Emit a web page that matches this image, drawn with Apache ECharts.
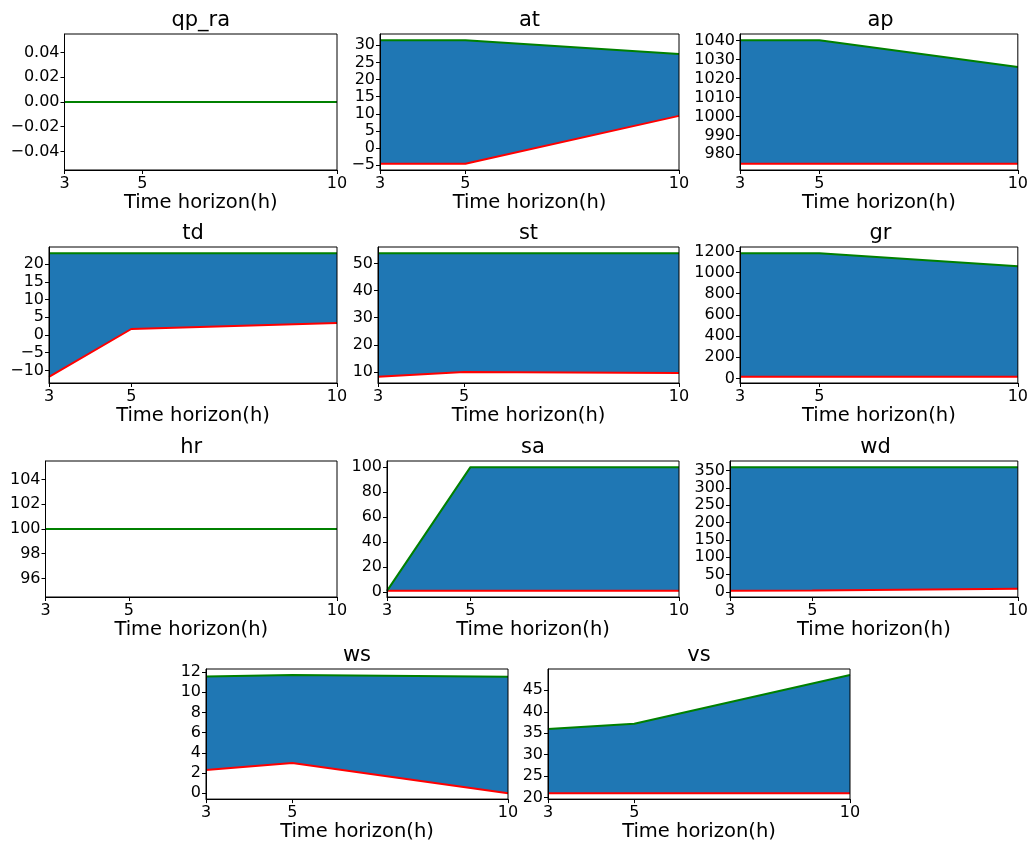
<!DOCTYPE html>
<html><head><meta charset="utf-8">
<script src="https://cdn.jsdelivr.net/npm/echarts@6/dist/echarts.min.js"></script>
<style>html,body{margin:0;padding:0;background:#fff}#c{width:1031px;height:843px}</style>
</head><body><div id="c"></div>
<script>
// ---------- data ----------
const hours = [3, 5, 10];
const xTicks = [3, 5, 10];
const xTickLabels = ['3', '5', '10'];
const xLabel = 'Time horizon(h)';

const titles = ['qp_ra', 'at', 'ap', 'td', 'st', 'gr', 'hr', 'sa', 'wd', 'ws', 'vs'];

const upperQpRa = [0, 0, 0];
const lowerQpRa = [0, 0, 0];
const upperAt = [31.5, 31.5, 27.5];
const lowerAt = [-4.6, -4.6, 9.4];
const upperAp = [1040.2, 1040.2, 1026];
const lowerAp = [975, 975, 975];
const upperTd = [23.1, 23.1, 23.1];
const lowerTd = [-11.8, 1.7, 3.4];
const upperSt = [53.8, 53.8, 53.8];
const lowerSt = [8.2, 10.0, 9.6];
const upperGr = [1183, 1183, 1060];
const lowerGr = [15, 15, 15];
const upperHr = [100, 100, 100];
const lowerHr = [100, 100, 100];
const upperSa = [1, 100, 100];
const lowerSa = [1, 1, 1];
const upperWd = [360, 360, 360];
const lowerWd = [3, 4, 9];
const upperWs = [11.56, 11.72, 11.53];
const lowerWs = [2.3, 3.0, 0.0];
const upperVs = [36.0, 37.2, 48.6];
const lowerVs = [21.0, 21.0, 21.0];

const ticksQpRa = [-0.04, -0.02, 0, 0.02, 0.04];
const labelsQpRa = ['\u22120.04', '\u22120.02', '0.00', '0.02', '0.04'];
const ticksAt = [-5, 0, 5, 10, 15, 20, 25, 30];
const labelsAt = ['\u22125', '0', '5', '10', '15', '20', '25', '30'];
const ticksAp = [980, 990, 1000, 1010, 1020, 1030, 1040];
const labelsAp = ['980', '990', '1000', '1010', '1020', '1030', '1040'];
const ticksTd = [-10, -5, 0, 5, 10, 15, 20];
const labelsTd = ['\u221210', '\u22125', '0', '5', '10', '15', '20'];
const ticksSt = [10, 20, 30, 40, 50];
const labelsSt = ['10', '20', '30', '40', '50'];
const ticksGr = [0, 200, 400, 600, 800, 1000, 1200];
const labelsGr = ['0', '200', '400', '600', '800', '1000', '1200'];
const ticksHr = [96, 98, 100, 102, 104];
const labelsHr = ['96', '98', '100', '102', '104'];
const ticksSa = [0, 20, 40, 60, 80, 100];
const labelsSa = ['0', '20', '40', '60', '80', '100'];
const ticksWd = [0, 50, 100, 150, 200, 250, 300, 350];
const labelsWd = ['0', '50', '100', '150', '200', '250', '300', '350'];
const ticksWs = [0, 2, 4, 6, 8, 10, 12];
const labelsWs = ['0', '2', '4', '6', '8', '10', '12'];
const ticksVs = [20, 25, 30, 35, 40, 45];
const labelsVs = ['20', '25', '30', '35', '40', '45'];

// ---------- assembly ----------
const uppers = [upperQpRa, upperAt, upperAp, upperTd, upperSt, upperGr, upperHr, upperSa, upperWd, upperWs, upperVs];
const lowers = [lowerQpRa, lowerAt, lowerAp, lowerTd, lowerSt, lowerGr, lowerHr, lowerSa, lowerWd, lowerWs, lowerVs];
const yTicks = [ticksQpRa, ticksAt, ticksAp, ticksTd, ticksSt, ticksGr, ticksHr, ticksSa, ticksWd, ticksWs, ticksVs];
const yLabels = [labelsQpRa, labelsAt, labelsAp, labelsTd, labelsSt, labelsGr, labelsHr, labelsSa, labelsWd, labelsWs, labelsVs];

// layout: [left, top, width, height]
const layout = [
  [64.5, 34, 272.5, 136], [380, 34, 299, 136], [740, 34, 281, 136],
  [49, 247, 288, 136], [378, 247, 301, 136], [740, 247, 281, 136],
  [45.5, 461, 291.5, 136], [387, 461, 292, 136], [730, 461, 291, 136],
  [206, 669, 302, 136], [548, 669, 302, 136]
];

const FONT = 'DejaVu Sans';

function yRange(lo, hi) {
  let mn = Math.min(...lo, ...hi), mx = Math.max(...lo, ...hi);
  if (mx - mn < 1e-12) {
    const e = mn === 0 ? 0.05 : Math.abs(mn) * 0.05;
    mn -= e; mx += e;
  }
  const m = (mx - mn) * 0.05;
  return [mn - m, mx + m];
}
function lookup(ticks, labels, v) {
  for (let k = 0; k < ticks.length; k++) if (Math.abs(ticks[k] - v) < 1e-9) return labels[k];
  return '';
}

const grid = [], xAxis = [], yAxis = [], series = [], title = [];
titles.forEach((name, i) => {
  const [l, t, w, h] = layout[i];
  grid.push({ left: l, top: t, width: w, height: h, show: true, borderColor: '#000', borderWidth: 1, backgroundColor: 'transparent', z: 10 });
  title.push({ text: name, left: l + w / 2, top: t - 24, textAlign: 'center', padding: 0,
    textStyle: { fontFamily: FONT, fontSize: 21, fontWeight: 'normal', color: '#000' } });
  xAxis.push({
    gridIndex: i, type: 'value', min: hours[0], max: hours[hours.length - 1], z: 10,
    name: xLabel, nameLocation: 'middle', nameGap: 20,
    nameTextStyle: { fontFamily: FONT, fontSize: 19.5, color: '#000' },
    axisLine: { show: true, onZero: false, lineStyle: { color: '#000', width: 1 } },
    axisTick: { show: true, length: 4, inside: false, customValues: xTicks, lineStyle: { color: '#000' } },
    axisLabel: { customValues: xTicks, fontFamily: FONT, fontSize: 16, color: '#000', margin: 6,
      formatter: v => lookup(xTicks, xTickLabels, v) },
    splitLine: { show: false }
  });
  const [ymin, ymax] = yRange(lowers[i], uppers[i]);
  yAxis.push({
    gridIndex: i, type: 'value', min: ymin, max: ymax, z: 10,
    axisLine: { show: true, onZero: false, lineStyle: { color: '#000', width: 1 } },
    axisTick: { show: true, length: 4, customValues: yTicks[i], lineStyle: { color: '#000' } },
    axisLabel: { customValues: yTicks[i], fontFamily: FONT, fontSize: 16, color: '#000', margin: 5,
      formatter: v => lookup(yTicks[i], yLabels[i], v) },
    splitLine: { show: false }
  });
  const lo = lowers[i], hi = uppers[i];
  const rows = hours.map((x, j) => [x, lo[j], hi[j]]);
  // filled band between lower and upper
  series.push({
    type: 'custom', xAxisIndex: i, yAxisIndex: i, silent: true, z: 2,
    data: rows,
    encode: { x: 0, y: [1, 2] },
    renderItem: (params, api) => {
      if (params.dataIndex !== 0) return null;
      const top = [], bot = [];
      for (let j = 0; j < rows.length; j++) {
        bot.push(api.coord([rows[j][0], rows[j][1]]));
        top.push(api.coord([rows[j][0], rows[j][2]]));
      }
      const pts = bot.concat(top.reverse());
      return { type: 'polygon', shape: { points: pts }, style: { fill: '#1f77b4', stroke: null } };
    }
  });
  series.push({
    type: 'line', xAxisIndex: i, yAxisIndex: i, data: hours.map((x, j) => [x, lo[j]]),
    symbol: 'none', silent: true, lineStyle: { color: '#ff0000', width: 2 }, z: 3
  });
  series.push({
    type: 'line', xAxisIndex: i, yAxisIndex: i, data: hours.map((x, j) => [x, hi[j]]),
    symbol: 'none', silent: true, lineStyle: { color: '#008000', width: 2 }, z: 4
  });
});

const chart = echarts.init(document.getElementById('c'), null, { renderer: 'canvas' });
chart.setOption({ animation: false, backgroundColor: '#fff', title, grid, xAxis, yAxis, series });
</script>
</body></html>
